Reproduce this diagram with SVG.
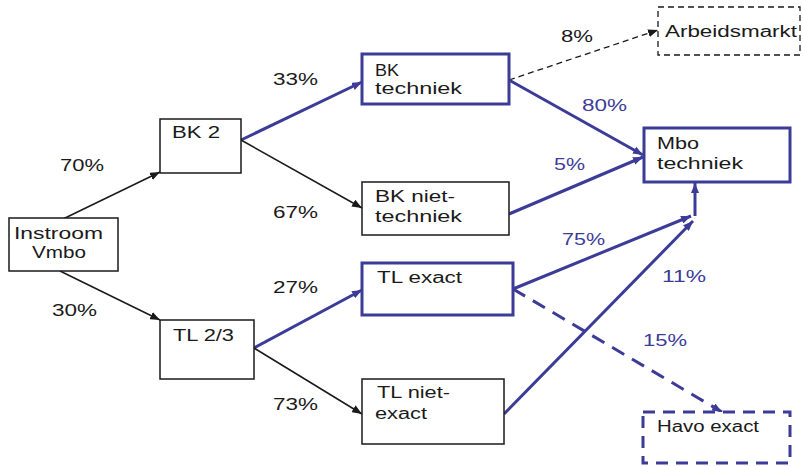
<svg xmlns="http://www.w3.org/2000/svg" width="802" height="467" viewBox="0 0 802 467">
<defs>
<style>
text{font-family:"Liberation Sans",Arial,sans-serif;font-size:16px;fill:#1a1a1a}
text.b{fill:#3c3c98}
.box{fill:#fff;stroke:#1a1a1a;stroke-width:1.5}
.bbox{fill:#fff;stroke:#3c3c98;stroke-width:3}
.dbox{fill:#fff;stroke:#1a1a1a;stroke-width:1.3;stroke-dasharray:6 4}
.dbbox{fill:#fff;stroke:#3c3c98;stroke-width:3;stroke-dasharray:12 8}
.k{fill:none;stroke:#1a1a1a;stroke-width:1.5;marker-end:url(#ak)}
.kd{fill:none;stroke:#1a1a1a;stroke-width:1.3;stroke-dasharray:6 4;marker-end:url(#ak)}
.bl{fill:none;stroke:#3c3c98;stroke-width:3;marker-end:url(#ab)}
.bd{fill:none;stroke:#3c3c98;stroke-width:3;stroke-dasharray:14 9;marker-end:url(#ab)}
</style>
<marker id="ak" markerUnits="userSpaceOnUse" markerWidth="10" markerHeight="8" refX="10" refY="4" orient="auto"><path d="M0,0 L10,4 L0,8 z" fill="#1a1a1a"/></marker>
<marker id="ab" markerUnits="userSpaceOnUse" markerWidth="10" markerHeight="8" refX="10" refY="4" orient="auto"><path d="M0,0 L10,4 L0,8 z" fill="#3c3c98"/></marker>
</defs>
<rect width="802" height="467" fill="#fff"/>
<g id="connectors">
<line class="k" x1="63" y1="219" x2="160" y2="172"/>
<line class="k" x1="60" y1="271" x2="160" y2="320"/>
<line class="bl" x1="241" y1="140" x2="362" y2="82"/>
<line class="k" x1="241" y1="140" x2="362" y2="208"/>
<line class="bl" x1="254" y1="348" x2="362" y2="290"/>
<line class="k" x1="254" y1="348" x2="362" y2="414"/>
<line class="kd" x1="509" y1="80" x2="658" y2="30"/>
<line class="bl" x1="509" y1="80" x2="643" y2="155"/>
<line class="bl" x1="509" y1="214" x2="643" y2="157"/>
<line class="bl" x1="513" y1="289" x2="691" y2="216"/>
<line class="bl" x1="504" y1="414" x2="693" y2="221"/>
<line class="bl" x1="695" y1="216" x2="695" y2="183"/>
<line class="bd" x1="513" y1="289" x2="722" y2="412"/>
</g>
<g id="instroom"><rect class="box" x="9" y="218" width="109" height="53"/><text x="14" y="239" textLength="89" lengthAdjust="spacingAndGlyphs">Instroom</text><text x="32" y="258" textLength="54" lengthAdjust="spacingAndGlyphs">Vmbo</text></g>
<g id="bk2"><rect class="box" x="160" y="119" width="81" height="54"/><text x="172" y="138" textLength="48" lengthAdjust="spacingAndGlyphs">BK 2</text></g>
<g id="tl23"><rect class="box" x="160" y="320" width="94" height="59"/><text x="173" y="341" textLength="61" lengthAdjust="spacingAndGlyphs">TL 2/3</text></g>
<g id="bktechniek"><rect class="bbox" x="362" y="54" width="147" height="50"/><text x="375" y="76" textLength="24" lengthAdjust="spacingAndGlyphs">BK</text><text x="375" y="94" textLength="87" lengthAdjust="spacingAndGlyphs">techniek</text></g>
<g id="bkniettechniek"><rect class="box" x="362" y="182" width="147" height="53"/><text x="375" y="202" textLength="80" lengthAdjust="spacingAndGlyphs">BK niet-</text><text x="375" y="222" textLength="87" lengthAdjust="spacingAndGlyphs">techniek</text></g>
<g id="tlexact"><rect class="bbox" x="362" y="263" width="151" height="52"/><text x="377" y="283" textLength="85" lengthAdjust="spacingAndGlyphs">TL exact</text></g>
<g id="tlnietexact"><rect class="box" x="362" y="379" width="142" height="65"/><text x="377" y="398" textLength="73" lengthAdjust="spacingAndGlyphs">TL niet-</text><text x="375" y="419" textLength="52" lengthAdjust="spacingAndGlyphs">exact</text></g>
<g id="arbeidsmarkt"><rect class="dbox" x="658" y="7" width="142" height="48"/><text x="665" y="37" textLength="132" lengthAdjust="spacingAndGlyphs">Arbeidsmarkt</text></g>
<g id="mbotechniek"><rect class="bbox" x="644" y="128" width="146" height="54"/><text x="657" y="149" textLength="42" lengthAdjust="spacingAndGlyphs">Mbo</text><text x="657" y="169" textLength="86" lengthAdjust="spacingAndGlyphs">techniek</text></g>
<g id="havoexact"><rect class="dbbox" x="643" y="412" width="147" height="51"/><text x="657" y="432" textLength="102" lengthAdjust="spacingAndGlyphs">Havo exact</text></g>
<g id="labels">
<text x="60" y="171" textLength="44" lengthAdjust="spacingAndGlyphs">70%</text>
<text x="52" y="316" textLength="45" lengthAdjust="spacingAndGlyphs">30%</text>
<text x="273" y="85" textLength="45" lengthAdjust="spacingAndGlyphs">33%</text>
<text x="273" y="218" textLength="45" lengthAdjust="spacingAndGlyphs">67%</text>
<text x="273" y="293" textLength="45" lengthAdjust="spacingAndGlyphs">27%</text>
<text x="273" y="410" textLength="45" lengthAdjust="spacingAndGlyphs">73%</text>
<text x="561" y="42" textLength="32" lengthAdjust="spacingAndGlyphs">8%</text>
<text class="b" x="582" y="111" textLength="45" lengthAdjust="spacingAndGlyphs">80%</text>
<text class="b" x="554" y="170" textLength="31" lengthAdjust="spacingAndGlyphs">5%</text>
<text class="b" x="562" y="245" textLength="43" lengthAdjust="spacingAndGlyphs">75%</text>
<text class="b" x="662" y="282" textLength="44" lengthAdjust="spacingAndGlyphs">11%</text>
<text class="b" x="643" y="346" textLength="44" lengthAdjust="spacingAndGlyphs">15%</text>
</g>
</svg>
